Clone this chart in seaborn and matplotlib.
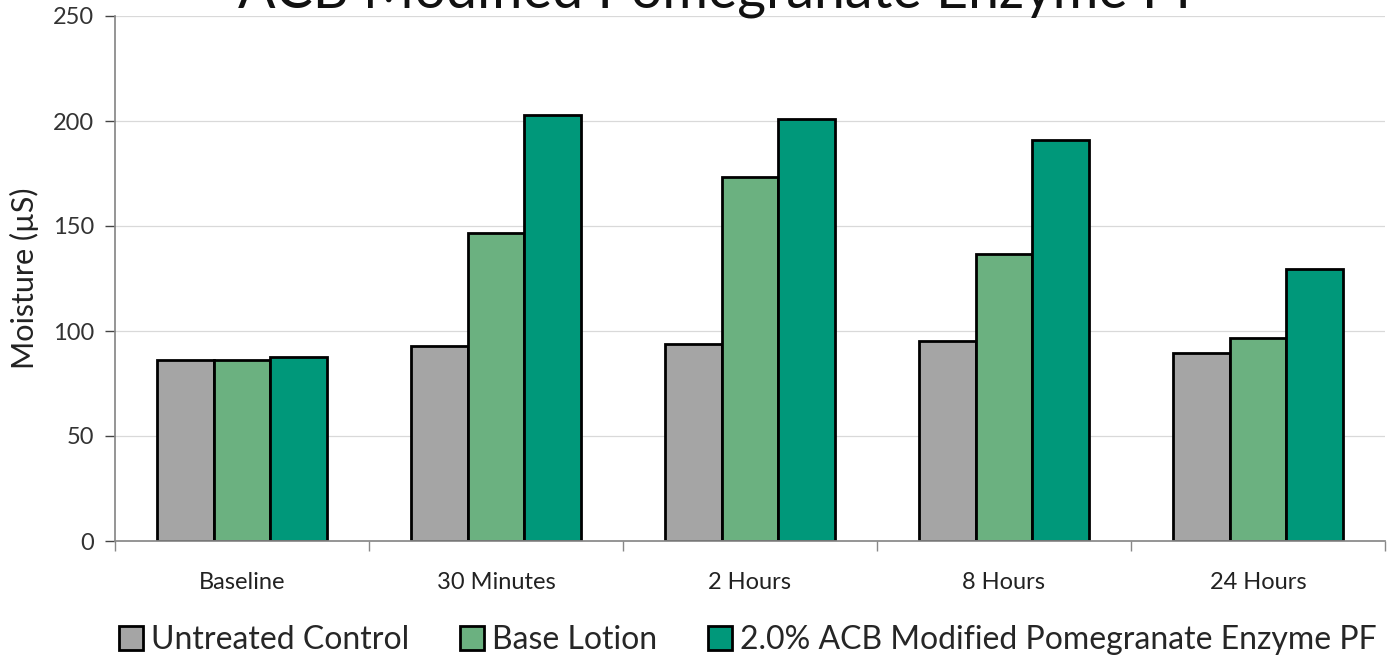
import matplotlib
matplotlib.use("Agg")
import matplotlib.pyplot as plt
import numpy as np
import pandas as pd
import seaborn as sns

# values
timepoints = ["Baseline", "30 Minutes", "2 Hours", "8 Hours", "24 Hours"]
untreated = [86.2, 92.9, 93.8, 95.2, 89.5]
base_lotion = [86.0, 146.7, 173.3, 136.7, 96.7]
pomegranate = [87.6, 202.9, 201.0, 191.0, 129.5]
series_names = ["Untreated Control", "Base Lotion", "2.0% ACB Modified Pomegranate Enzyme PF"]
colors = ["#A5A5A5", "#6BB180", "#00987A"]

df = pd.DataFrame({
    "Time": timepoints * 3,
    "Moisture": untreated + base_lotion + pomegranate,
    "Treatment": [s for s in series_names for _ in timepoints],
})

sns.set_theme(style="white")
plt.rcParams["font.family"] = ["Lato", "DejaVu Sans"]

fig = plt.figure(figsize=(13.92, 6.58), dpi=100)
ax = fig.add_axes([115 / 1392, 1 - 541 / 658, 1270 / 1392, 525 / 658])

sns.barplot(
    data=df, x="Time", y="Moisture", hue="Treatment",
    palette=colors, width=0.67, edgecolor="black", linewidth=2,
    ax=ax, legend=False, saturation=1,
)

ax.set_ylim(0, 250)
ax.set_xlim(-0.5, 4.5)
ax.set_yticks([0, 50, 100, 150, 200, 250])
ax.yaxis.grid(True, color="#D9D9D9", linewidth=0.9)
ax.set_axisbelow(True)
ax.set_xlabel("")
ax.set_ylabel("Moisture (µS)", fontsize=22, color="#222222", labelpad=10)
ax.tick_params(axis="y", labelsize=17, colors="#444444", length=7, width=1, direction="out", left=True, pad=8)
ax.tick_params(axis="y", labelcolor="#333333")
ax.tick_params(axis="x", labelsize=17, labelcolor="#222222", length=0, pad=22)
ax.set_xticks(np.arange(-0.5, 5.0, 1.0), minor=True)
ax.tick_params(axis="x", which="minor", length=7, width=1, color="#888888", bottom=True, direction="out")
for side in ["top", "right"]:
    ax.spines[side].set_visible(False)
ax.spines["left"].set_color("#888888")
ax.spines["bottom"].set_color("#888888")

fig.text(722 / 1392, 1 - 8 / 658, "ACB Modified Pomegranate Enzyme PF",
         ha="center", va="baseline", fontsize=40, color="#111111")

handles = [plt.Rectangle((0, 0), 1, 1, facecolor=c, edgecolor="black", linewidth=2) for c in colors]
fig.legend(handles, series_names, loc="center", bbox_to_anchor=(748 / 1392, 1 - 640 / 658),
           ncol=3, frameon=False, fontsize=23, handlelength=0.75, handleheight=0.75,
           handletextpad=0.25, columnspacing=1.6)

fig.savefig("out.png", dpi=100)
